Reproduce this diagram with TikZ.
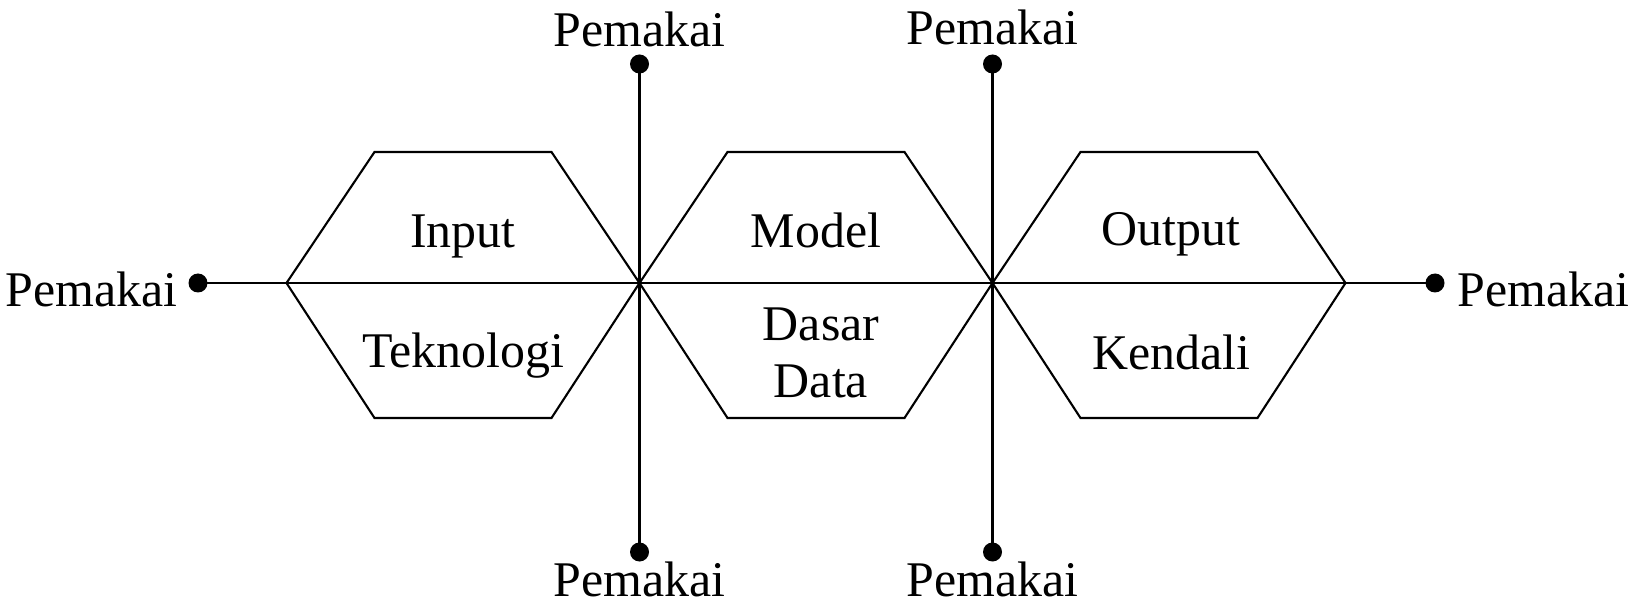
\documentclass[tikz,border=0pt]{standalone}
\usepackage{fontspec}
\setmainfont{Liberation Serif}
\begin{document}
\begin{tikzpicture}[
    font=\fontsize{14.2}{16.5}\selectfont,
    titik/.style={circle, fill=black, inner sep=0pt, minimum size=0.19cm},
    label/.style={inner sep=0pt, anchor=base},
    garis/.style={line width=0.8pt},
    heks/.style={line width=0.6pt}
  ]
        \useasboundingbox (0,0) rectangle (16.42,6.03);

        % Titik pemakai
        \node[titik] (kiri) at (1.98,3.2) {};
        \node[titik] (kanan) at (14.35,3.2) {};
        \node[titik] (atas1) at (6.395,5.39) {};
        \node[titik] (bawah1) at (6.395,0.51) {};
        \node[titik] (atas2) at (9.925,5.39) {};
        \node[titik] (bawah2) at (9.925,0.51) {};

        % Garis
        \draw[garis] (kiri.center) -- (kanan.center);
        \draw[garis] (atas1.center) -- (bawah1.center);
        \draw[garis] (atas2.center) -- (bawah2.center);

        % Heksagon
        \draw[heks] (2.865,3.2) -- (3.745,4.51) -- (5.515,4.51) -- (6.395,3.2)
                    -- (5.515,1.85) -- (3.745,1.85) -- cycle;
        \draw[heks] (6.395,3.2) -- (7.275,4.51) -- (9.045,4.51) -- (9.925,3.2)
                    -- (9.045,1.85) -- (7.275,1.85) -- cycle;
        \draw[heks] (9.925,3.2) -- (10.805,4.51) -- (12.575,4.51) -- (13.455,3.2)
                    -- (12.575,1.85) -- (10.805,1.85) -- cycle;

        % Isi heksagon
        \node[label] (input) at (4.63,3.55) {Input};
        \node[label] (tekno) at (4.63,2.35) {Teknologi};
        \node[label] (model) at (8.16,3.55) {Model};
        \node[label, align=center] (dasar) at (8.21,2.05) {Dasar\\Data};
        \node[label] (output) at (11.71,3.57) {Output};
        \node[label] (kendali) at (11.71,2.34) {Kendali};

        % Label pemakai
        \node[label, anchor=base east] (pkiri) at (1.78,2.96) {Pemakai};
        \node[label, anchor=base west] (pkanan) at (14.57,2.96) {Pemakai};
        \node[label] (patas1) at (6.395,5.56) {Pemakai};
        \node[label] (pbawah1) at (6.395,0.07) {Pemakai};
        \node[label] (patas2) at (9.925,5.58) {Pemakai};
        \node[label] (pbawah2) at (9.925,0.07) {Pemakai};
\end{tikzpicture}
\end{document}
